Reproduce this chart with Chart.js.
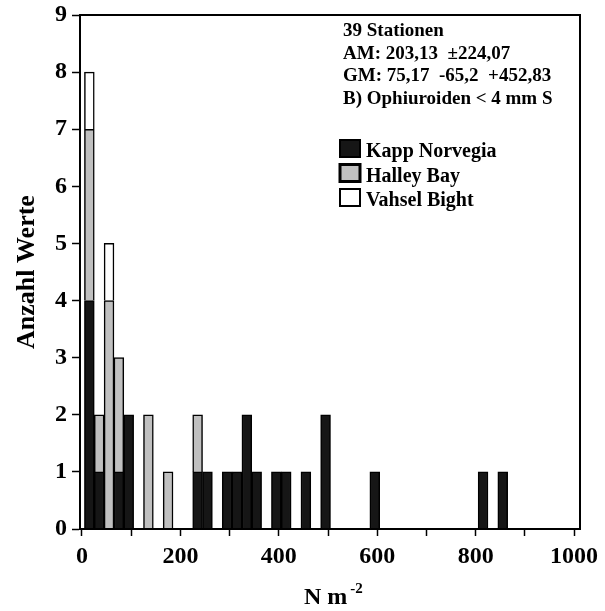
<!DOCTYPE html>
<html>
<head>
<meta charset="utf-8">
<title>Ophiuroiden Histogramm</title>
<script src="https://cdn.jsdelivr.net/npm/chart.js@4.4.1/dist/chart.umd.min.js"></script>
<style>
  html, body { margin: 0; padding: 0; background: #fff; }
  #wrap { width: 605px; height: 611px; }
</style>
</head>
<body>
<div id="wrap"><canvas id="histChart" width="605" height="611"></canvas></div>
<script>
// Bin centres in N m^-2 (each bin is 20 wide)
const binCenters   = [15, 35, 55, 75, 95, 135, 175, 235, 255, 295, 315, 335, 355, 395, 415, 455, 495, 595, 815, 855];
// Number of stations per bin, one array per area
const kappNorvegia = [4, 1, 0, 1, 2, 0, 0, 1, 1, 1, 1, 2, 1, 1, 1, 1, 2, 1, 1, 1];
const halleyBay    = [3, 1, 4, 2, 0, 2, 1, 1, 0, 0, 0, 0, 0, 0, 0, 0, 0, 0, 0, 0];
const vahselBight  = [1, 0, 1, 0, 0, 0, 0, 0, 0, 0, 0, 0, 0, 0, 0, 0, 0, 0, 0, 0];

// Axis ticks
const xTicks  = [0, 100, 200, 300, 400, 500, 600, 700, 800, 900, 1000];
const xLabels = [0, 200, 400, 600, 800, 1000];
const yTicks  = [0, 1, 2, 3, 4, 5, 6, 7, 8, 9];

// Summary block in the upper right
const statsLines = [
    '39 Stationen',
    'AM: 203,13  \u00b1224,07',
    'GM: 75,17  -65,2  +452,83',
    'B) Ophiuroiden < 4 mm S'
];

const SERIF = '"Liberation Serif", "Times New Roman", serif';

// Turn a count array into {x, y} points, leaving empty bins out
function toPoints(values) {
    return binCenters.map((x, i) => ({ x: x, y: values[i] ? values[i] : null }));
}

// Box around the plot area
const framePlugin = {
    id: 'frame',
    afterDraw(chart) {
        const { ctx, chartArea: a } = chart;
        ctx.save();
        ctx.strokeStyle = '#000';
        ctx.lineWidth = 2;
        ctx.strokeRect(a.left, a.top, a.right - a.left, a.bottom - a.top);
        ctx.restore();
    }
};

// Statistics text, legend boxes and the x axis title
const notesPlugin = {
    id: 'notes',
    afterDraw(chart) {
        const ctx = chart.ctx;
        ctx.save();
        ctx.fillStyle = '#000';
        ctx.textAlign = 'left';
        ctx.textBaseline = 'alphabetic';
        ctx.font = 'bold 19px ' + SERIF;
        statsLines.forEach((line, i) => {
            ctx.fillText(line, 343, 36 + i * 22.5);
        });

        ctx.font = 'bold 20px ' + SERIF;
        chart.data.datasets.forEach((ds, i) => {
            const top = 140 + i * 24.5;
            ctx.fillStyle = ds.backgroundColor;
            ctx.fillRect(340, top, 20, 17);
            ctx.strokeStyle = '#000';
            ctx.lineWidth = i === 1 ? 3 : 2;
            ctx.strokeRect(340, top, 20, 17);
            ctx.fillStyle = '#000';
            ctx.fillText(ds.label, 366, top + 17);
        });

        // x axis title with superscript exponent
        ctx.font = 'bold 24px ' + SERIF;
        const base = 'N m';
        const w = ctx.measureText(base).width;
        const startX = 304;
        ctx.fillText(base, startX, 604);
        ctx.font = 'bold 15px ' + SERIF;
        ctx.fillText('-2', startX + w + 3, 593);
        ctx.restore();
    }
};

function initHistogram() {
    const ctx = document.getElementById('histChart');
    if (!ctx) return;

    const tickFont = { family: SERIF, size: 24, weight: 'bold' };

    new Chart(ctx, {
        type: 'bar',
        data: {
            datasets: [
                {
                    label: 'Kapp Norvegia',
                    data: toPoints(kappNorvegia),
                    backgroundColor: '#161616',
                    borderColor: '#000',
                    borderWidth: 1.5
                },
                {
                    label: 'Halley Bay',
                    data: toPoints(halleyBay),
                    backgroundColor: '#c0c0c0',
                    borderColor: '#000',
                    borderWidth: 1.5
                },
                {
                    label: 'Vahsel Bight',
                    data: toPoints(vahselBight),
                    backgroundColor: '#ffffff',
                    borderColor: '#000',
                    borderWidth: 1.5
                }
            ]
        },
        options: {
            responsive: false,
            animation: false,
            layout: {
                padding: { top: 15, right: 25, left: 0, bottom: 0 }
            },
            datasets: {
                bar: {
                    categoryPercentage: 1,
                    barPercentage: 1
                }
            },
            plugins: {
                legend: { display: false },
                tooltip: { enabled: false }
            },
            scales: {
                x: {
                    type: 'linear',
                    stacked: true,
                    min: -4,
                    max: 1012,
                    offset: false,
                    afterBuildTicks: scale => {
                        scale.ticks = xTicks.map(v => ({ value: v }));
                    },
                    afterFit: scale => {
                        scale.height = 82;
                        scale.paddingLeft = 0;
                        scale.paddingRight = 0;
                    },
                    grid: {
                        display: true,
                        drawOnChartArea: false,
                        drawTicks: true,
                        tickLength: 7,
                        tickWidth: 1.5,
                        tickColor: '#000',
                        offset: false
                    },
                    border: { display: true, color: '#000', width: 2 },
                    ticks: {
                        font: tickFont,
                        color: '#000',
                        padding: 6,
                        maxRotation: 0,
                        autoSkip: false,
                        callback: v => xLabels.includes(v) ? String(v) : ''
                    }
                },
                y: {
                    stacked: true,
                    min: 0,
                    max: 9,
                    afterBuildTicks: scale => {
                        scale.ticks = yTicks.map(v => ({ value: v }));
                    },
                    afterFit: scale => {
                        scale.width = 80;
                        scale.paddingTop = 0;
                        scale.paddingBottom = 0;
                    },
                    grid: {
                        display: true,
                        drawOnChartArea: false,
                        drawTicks: true,
                        tickLength: 8,
                        tickWidth: 1.5,
                        tickColor: '#000'
                    },
                    border: { display: true, color: '#000', width: 2 },
                    ticks: {
                        font: tickFont,
                        color: '#000',
                        padding: 5
                    },
                    title: {
                        display: true,
                        text: 'Anzahl Werte',
                        color: '#000',
                        font: { family: SERIF, size: 26, weight: 'bold' },
                        padding: { top: 12, bottom: 0 }
                    }
                }
            }
        },
        plugins: [framePlugin, notesPlugin]
    });
}

document.addEventListener('DOMContentLoaded', initHistogram);
</script>
</body>
</html>
